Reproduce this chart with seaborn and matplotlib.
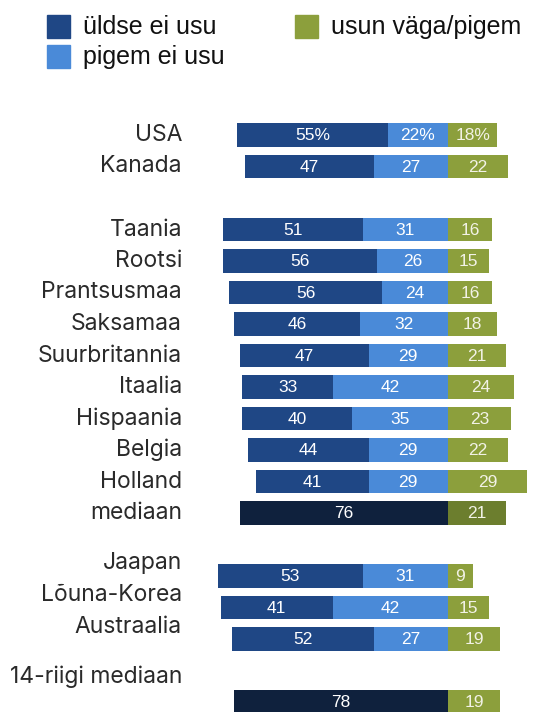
import numpy as np
import pandas as pd
import seaborn as sns
import matplotlib.pyplot as plt
from matplotlib.patches import Rectangle

# andmed
riigid = ['USA', 'Kanada', 'Taania', 'Rootsi', 'Prantsusmaa', 'Saksamaa',
          'Suurbritannia', 'Itaalia', 'Hispaania', 'Belgia', 'Holland',
          'mediaan', 'Jaapan', 'Lõuna-Korea', 'Austraalia', '14-riigi mediaan']
yldse_ei = [55, 47, 51, 56, 56, 46, 47, 33, 40, 44, 41, 76, 53, 41, 52, 78]
pigem_ei = [22, 27, 31, 26, 24, 32, 29, 42, 35, 29, 29, 0, 31, 42, 27, 0]
usun = [18, 22, 16, 15, 16, 18, 21, 24, 23, 22, 29, 21, 9, 15, 19, 19]
mediaanid = ['mediaan', '14-riigi mediaan']

# paigutus (reanumbrid, vahed gruppide vahel)
rida = [0, 1, 3, 4, 5, 6, 7, 8, 9, 10, 11, 12, 14, 15, 16, 18]
sildi_nihe = {'Jaapan': 0.42, 'Lõuna-Korea': 0.4, 'Austraalia': 0.38,
              '14-riigi mediaan': 0.8}

c_dark = '#1f4785'
c_light = '#4a8ad8'
c_green = '#8c9f3c'
c_navy = '#0f213d'
c_green_dark = '#6c7e2e'

df = pd.DataFrame({'riik': riigid, 'y': rida,
                   'yldse': yldse_ei, 'pigem': pigem_ei, 'usun': usun})
df['vasak'] = -(df['yldse'] + df['pigem'])
df['pigem_neg'] = -df['pigem']

pal_dark = {r: (c_navy if r in mediaanid else c_dark) for r in riigid}
pal_light = {r: c_light for r in riigid}
pal_green = {r: (c_green_dark if r == 'mediaan' else c_green) for r in riigid}

fig = plt.figure(figsize=(5.36, 7.12), dpi=100)
ax = fig.add_axes([0, 0, 1, 1])

px = 2.74  # pikslit ühiku kohta
for col, pal in [('vasak', pal_dark), ('pigem_neg', pal_light), ('usun', pal_green)]:
    sns.barplot(data=df, x=col, y='y', hue='riik', palette=pal, orient='h',
                native_scale=True, dodge=False, width=0.76, errorbar=None,
                saturation=1, legend=False, ax=ax, linewidth=0)

ax.set_xlim(-448 / px, 88 / px)
ax.set_ylim((712 - 135) / 31.5, -135 / 31.5)
ax.axis('off')

num_font = dict(family=['Liberation Sans', 'DejaVu Sans'], fontsize=12.5,
                color='white', ha='center', va='center')
for i, r in df.iterrows():
    suf = '%' if r['riik'] == 'USA' else ''
    ax.text(-(r['pigem'] + r['yldse'] / 2), r['y'] + 0.03, f"{r['yldse']}{suf}", **num_font)
    if r['pigem'] > 0:
        ax.text(-r['pigem'] / 2, r['y'] + 0.03, f"{r['pigem']}{suf}", **num_font)
    ax.text(r['usun'] / 2, r['y'] + 0.03, f"{r['usun']}{suf}",
            **{**num_font, 'color': '#f2f2e6'})
    ly = r['y'] - sildi_nihe.get(r['riik'], 0)
    ax.text(182 / 536, ly, r['riik'], transform=ax.get_yaxis_transform(),
            ha='right', va='center', fontsize=16.5, family='Inter',
            color='#2a2a2a')

# legend
leg = [(47, 15, c_dark, 'üldse ei usu'), (47, 45, c_light, 'pigem ei usu'),
       (295, 15, c_green, 'usun väga/pigem')]
for x0, y0, col, txt in leg:
    fig.patches.append(Rectangle((x0 / 536, 1 - (y0 + 23) / 712), 23 / 536, 23 / 712,
                                 transform=fig.transFigure, color=col))
    fig.text((x0 + 36) / 536, 1 - (y0 + 12) / 712, txt, ha='left', va='center',
             fontsize=18, family='Liberation Sans', color='#111111')

plt.savefig('out.png', dpi=100)
